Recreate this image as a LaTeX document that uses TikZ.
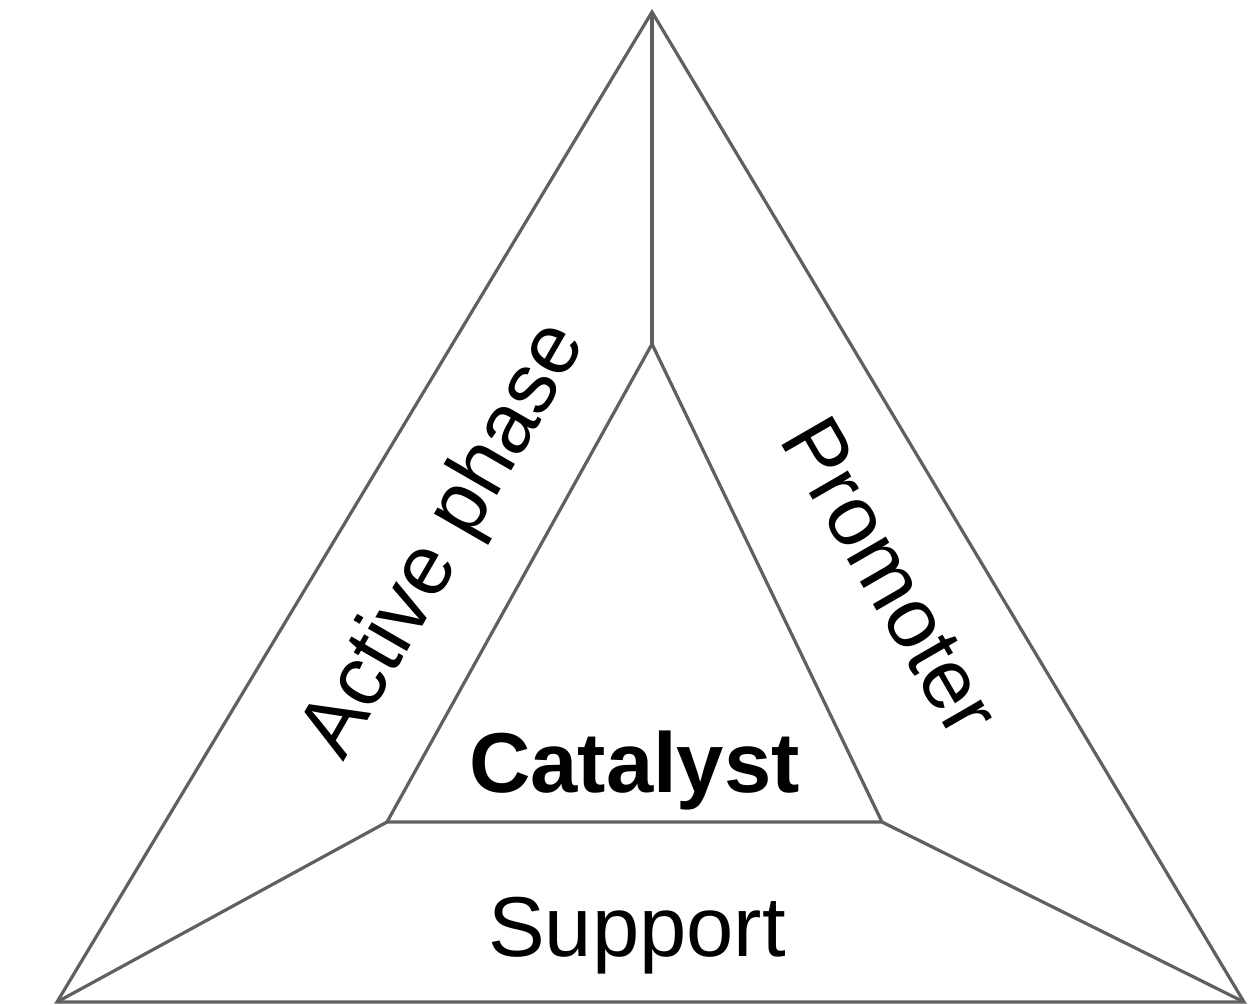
\documentclass[tikz,border=0pt]{standalone}
\usepackage{fontspec}
\setmainfont{Liberation Sans}
\definecolor{edgegray}{RGB}{96,96,96}
\tikzset{edge/.style={draw=edgegray, line width=3.2pt},
  lbl/.style={inner sep=0pt, anchor=base, font=\fontsize{85}{100}\selectfont}}

\begin{document}
\begin{tikzpicture}[x=1pt, y=-1pt]
\useasboundingbox (0,0) rectangle (1255,1004);
% outer and inner corners
\coordinate (top) at (652,12);
\coordinate (bl) at (57,1002);
\coordinate (br) at (1244,1002);
\coordinate (itop) at (652,344);
\coordinate (il) at (387,822);
\coordinate (ir) at (882,822);
\draw[edge] (top) -- (bl) -- (br) -- cycle;
\draw[edge] (itop) -- (il) -- (ir) -- cycle;
\draw[edge] (top) -- (itop);
\draw[edge] (bl) -- (il);
\draw[edge] (br) -- (ir);
% labels
\node[lbl, rotate=60] (active) at (465,552) {Active phase};
\node[lbl, rotate=-60] (promoter) at (866,591) {Promoter};
\node[lbl, font=\fontsize{85}{100}\selectfont\bfseries] (catalyst) at (634.5,792) {Catalyst};
\node[lbl] (support) at (637,956) {Support};
\end{tikzpicture}
\end{document}
